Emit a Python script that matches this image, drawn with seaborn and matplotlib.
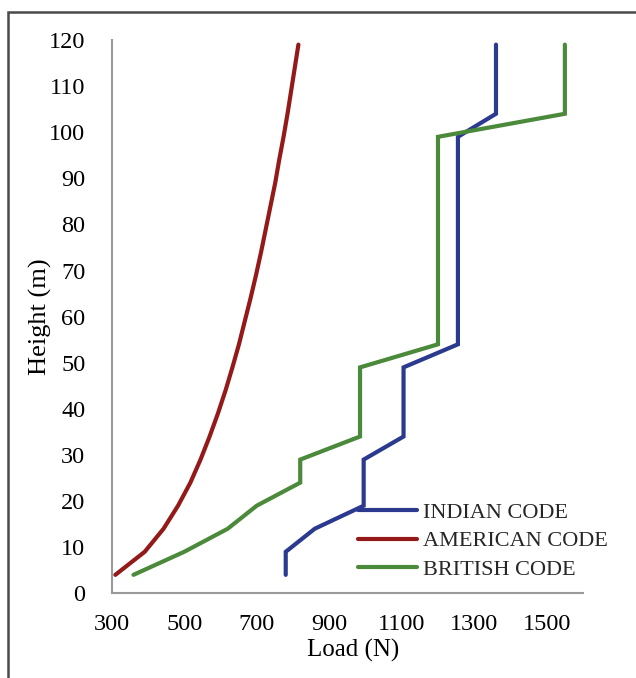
import numpy as np
import pandas as pd
import matplotlib
matplotlib.use("Agg")
import matplotlib.pyplot as plt
import seaborn as sns
from matplotlib.patches import Rectangle
from matplotlib.lines import Line2D

# ---- data ----
indian_height = [4, 9, 14, 19, 29, 34, 49, 54, 99, 104, 119]
indian_load = [780, 780, 860, 995, 995, 1105, 1105, 1255, 1255, 1360, 1360]

american_height = [4, 9, 14, 19, 24, 29, 34, 39, 44, 49, 54, 59, 64, 69, 74,
                   79, 84, 89, 94, 99, 104, 109, 114, 119]
american_load = [310, 391, 443, 483, 517, 545, 570, 593, 614, 633, 651, 667,
                 683, 698, 712, 725, 738, 751, 762, 774, 785, 795, 805, 815]

british_height = [4, 9, 14, 19, 24, 29, 34, 49, 54, 99, 104, 119]
british_load = [360, 500, 620, 700, 820, 820, 985, 985, 1200, 1200, 1550, 1550]

series_names = ["INDIAN CODE", "AMERICAN CODE", "BRITISH CODE"]
series_colors = ["#2b3a8f", "#941a1a", "#4b8a3a"]
x_ticks = [300, 500, 700, 900, 1100, 1300, 1500]
y_ticks = list(range(0, 121, 10))

frames = []
for name, h, l in zip(series_names,
                      [indian_height, american_height, british_height],
                      [indian_load, american_load, british_load]):
    frames.append(pd.DataFrame({"Height": h, "Load": l, "Code": name}))
df = pd.concat(frames, ignore_index=True)

sns.set_style("white")
plt.rcParams["font.family"] = ["Liberation Serif", "DejaVu Serif"]

W, H = 636, 678
fig = plt.figure(figsize=(W / 100, H / 100), dpi=100)
ax = fig.add_axes([111.7 / W, 1 - 593.3 / H, (583 - 111.7) / W, (593.3 - 40) / H])

sns.lineplot(data=df, x="Load", y="Height", hue="Code", hue_order=series_names,
             palette=series_colors, sort=False, estimator=None, units="Code",
             linewidth=3.0, ax=ax, legend=False)
for line in ax.lines:
    line.set_solid_capstyle("round")
    line.set_solid_joinstyle("miter")
    line.set_clip_on(False)

ax.set_xlim(300, 1600)
ax.set_ylim(0, 120)
ax.set_xticks(x_ticks)
ax.set_yticks(y_ticks)
ax.set_xticklabels([str(v) for v in x_ticks])
ax.set_yticklabels([str(v) for v in y_ticks])

for s in ["top", "right"]:
    ax.spines[s].set_visible(False)
for s in ["left", "bottom"]:
    ax.spines[s].set_color("#9a9a9a")
    ax.spines[s].set_linewidth(1.5)
ax.tick_params(axis="both", which="major", colors="#9a9a9a", width=1.5,
               length=6, direction="out", labelcolor="black", labelsize=17.5)
ax.tick_params(axis="y", pad=13)
ax.tick_params(axis="x", pad=9)

ax.set_xlabel("Load (N)", fontsize=18, color="black")
ax.set_ylabel("Height (m)", fontsize=19, color="black")
ax.xaxis.set_label_coords((353 - 111.7) / (583 - 111.7), -(650 - 593.3) / (593.3 - 40))
ax.yaxis.set_label_coords(-(111.7 - 40) / (583 - 111.7), 0.5)
ax.xaxis.label.set_va("center")
ax.yaxis.label.set_va("center")

# legend
handles = [Line2D([], [], color=c, lw=3.0) for c in series_colors]
leg = fig.legend(handles, series_names, loc="center left",
                 bbox_to_anchor=(358 / W, 1 - 541 / H), bbox_transform=fig.transFigure,
                 frameon=False, fontsize=16, handlelength=2.66, handletextpad=0.28,
                 labelspacing=0.37, borderpad=0, borderaxespad=0)

# outer border (left and top visible)
fig.patches.append(Rectangle((7.5 / W, -0.2), 1.5, 1 - 12 / H + 0.2,
                             transform=fig.transFigure, fill=False,
                             edgecolor="#4a4a4a", linewidth=1.8, zorder=-1))

fig.savefig("out.png", dpi=100)
